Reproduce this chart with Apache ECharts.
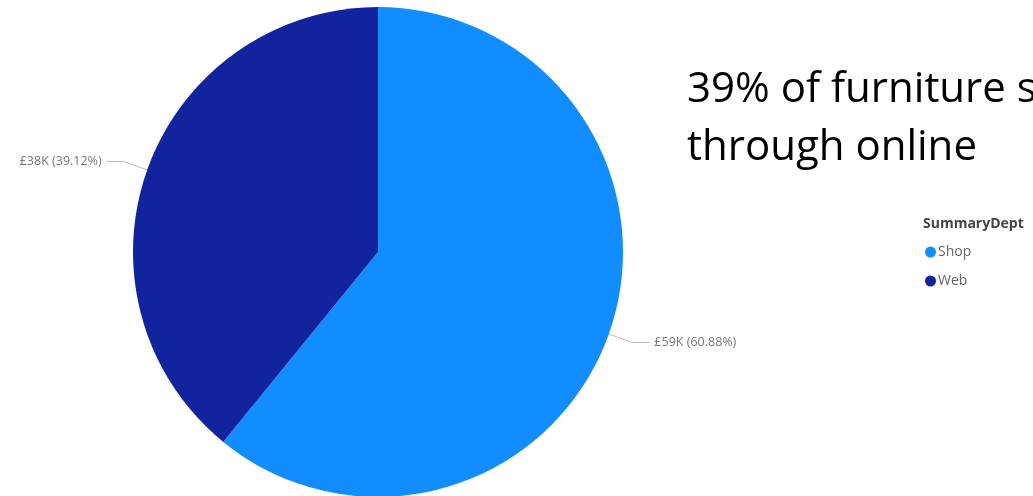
<!DOCTYPE html>
<html>
<head>
<meta charset="utf-8">
<script src="https://cdn.jsdelivr.net/npm/echarts@6/dist/echarts.min.js"></script>
<style>
html,body{margin:0;padding:0;background:#fff;}
#chart{width:1033px;height:496px;}
</style>
</head>
<body>
<div id="chart"></div>
<script>
const categories = ['Shop', 'Web'];
const valuesK = [59.08, 37.96];
const colors = ['#118DFF', '#12239E'];
const headline = '39% of furniture sales\nthrough online';
const legendTitle = 'SummaryDept';

const chart = echarts.init(document.getElementById('chart'));
const data = categories.map((c, i) => ({ name: c, value: valuesK[i], itemStyle: { color: colors[i] } }));

chart.setOption({
  animation: false,
  backgroundColor: '#ffffff',
  title: [
    {
      text: headline,
      left: 682, top: 56,
      textStyle: { fontFamily: 'Open Sans', fontSize: 42, fontWeight: 'normal', color: '#000', lineHeight: 58 }
    },
    {
      text: legendTitle,
      left: 918, top: 212,
      textStyle: { fontFamily: 'Open Sans', fontSize: 14, fontWeight: 'bold', color: '#444' }
    }
  ],
  legend: {
    orient: 'vertical',
    left: 920, top: 240,
    icon: 'circle',
    itemWidth: 11, itemHeight: 11, itemGap: 15,
    textStyle: { fontFamily: 'Open Sans', fontSize: 14, color: '#666', padding: [0, 0, 0, -3] },
    data: categories
  },
  series: [{
    type: 'pie',
    center: [378, 252],
    radius: 245,
    startAngle: 90,
    clockwise: true,
    percentPrecision: 2,
    data: data,
    label: {
      show: true,
      position: 'outside',
      fontFamily: 'Open Sans',
      fontSize: 12.5,
      color: '#777',
      formatter: p => '£' + Math.round(p.value) + 'K (' + p.percent.toFixed(2) + '%)'
    },
    labelLine: { show: true, length: 25, length2: 17, lineStyle: { color: '#bbb', width: 1 } },
    emphasis: { disabled: true }
  }]
});
</script>
</body>
</html>
